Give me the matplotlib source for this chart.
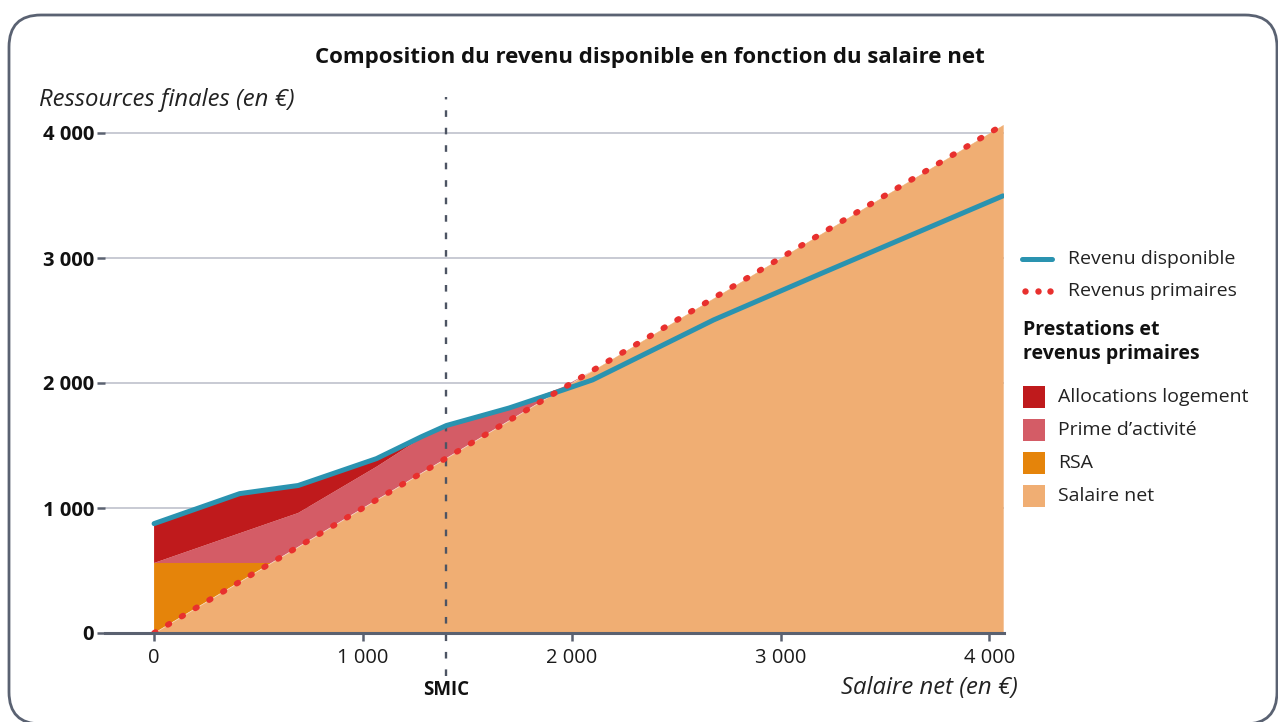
import matplotlib
matplotlib.use("Agg")
import matplotlib.pyplot as plt
from matplotlib.patches import FancyBboxPatch, Rectangle
from matplotlib.lines import Line2D

plt.rcParams['font.family'] = ['Open Sans', 'DejaVu Sans']

# ---- data ----
salaire = [0, 410, 560, 690, 1065, 1280, 1400, 1700, 1960, 2100, 2680, 3200, 4065]
rsa = [560, 150, 0, 0, 0, 0, 0, 0, 0, 0, 0, 0, 0]
prime_activite = [0, 238, 325, 270, 265, 280, 260, 100, 10, 0, 0, 0, 0]
allocations_logement = [315, 317, 265, 220, 65, 0, 0, 0, 0, 0, 0, 0, 0]
revenu_disponible = [875, 1115, 1150, 1180, 1395, 1570, 1660, 1800, 1945, 2025, 2505, 2880, 3497]
smic = 1400

x_ticks = [0, 1000, 2000, 3000, 4000]
x_tick_labels = ["0", "1 000", "2 000", "3 000", "4 000"]
y_ticks = [0, 1000, 2000, 3000, 4000]
y_tick_labels = ["0", "1 000", "2 000", "3 000", "4 000"]

layer_labels = ["Salaire net", "RSA", "Prime d\u2019activité", "Allocations logement"]
layer_colors = ["#f0ae73", "#e5840a", "#d45c66", "#bf1a1c"]
c_blue = "#2a93b0"
c_red = "#e8302e"
c_axis = "#5a6170"
dot_style = (0, (0.3, 2.45))

W, H = 1278, 722
fig = plt.figure(figsize=(W / 100, H / 100), dpi=100)

def fx(px):
    return px / W

def fy(py):
    return 1 - py / H

# rounded frame
frame = FancyBboxPatch((fx(9), fy(724)), fx(1277) - fx(9), fy(15) - fy(724),
                       boxstyle="round,pad=0,rounding_size=0.025",
                       transform=fig.transFigure, facecolor="white",
                       edgecolor="#5a6272", linewidth=2.0, zorder=-5,
                       mutation_aspect=W / H)
fig.patches.append(frame)

ax = fig.add_axes([fx(105), fy(633), fx(1004) - fx(105), fy(95.5) - fy(633)])
ax.set_zorder(2)
ax.set_facecolor("none")
ax.set_xlim(-235, 4070)
ax.set_ylim(0, 4300)

# grid
for yv in y_ticks[1:]:
    ax.axhline(yv, color="#b9bcc8", lw=1.1, zorder=1)

stacks = ax.stackplot(salaire, salaire, rsa, prime_activite, allocations_logement,
                      colors=layer_colors, zorder=2, linewidth=0)
for s in stacks:
    s.set_linewidth(0)
stacks[0].set_edgecolor("face")
stacks[0].set_linewidth(0.3)

# SMIC line
ax.plot([smic, smic], [-340, 4290], color="#4d5463", lw=1.7,
        linestyle=(0, (2.8, 4.6)), zorder=4, clip_on=False)

ax.plot(salaire, revenu_disponible, color=c_blue, lw=3.6, zorder=5,
        solid_capstyle="round", solid_joinstyle="round")
ax.plot(salaire, salaire, color=c_red, lw=4.2, linestyle=dot_style,
        dash_capstyle="round", zorder=6)

# axes styling
for sp in ["top", "right", "left"]:
    ax.spines[sp].set_visible(False)
ax.spines["bottom"].set_color(c_axis)
ax.spines["bottom"].set_linewidth(2.2)
ax.spines["bottom"].set_zorder(7)

ax.set_xticks(x_ticks)
ax.set_xticklabels(x_tick_labels)
ax.set_yticks(y_ticks)
ax.set_yticklabels(y_tick_labels, fontweight="bold")
ax.tick_params(axis="x", length=6, width=1.8, color=c_axis, labelsize=14.5,
               labelcolor="#1a1a1a", pad=5)
ax.tick_params(axis="y", length=6, width=1.8, color=c_axis, labelsize=14.5,
               labelcolor="#111111", pad=2)

# texts
fig.text(fx(650), fy(58), "Composition du revenu disponible en fonction du salaire net",
         ha="center", va="center", fontsize=16, fontweight="bold", color="#111111")
fig.text(fx(39), fy(100), "Ressources finales (en €)", ha="left", va="center",
         fontsize=17.2, fontstyle="italic", color="#222222")
fig.text(fx(1018), fy(688), "Salaire net (en €)", ha="right", va="center",
         fontsize=17.2, fontstyle="italic", color="#222222")
fig.text(fx(446), fy(690), "SMIC", ha="center", va="center",
         fontsize=13.5, fontweight="bold", color="#111111")

# legend (manual)
fig.add_artist(Line2D([fx(1022), fx(1052)], [fy(259), fy(259)], color=c_blue, lw=3.6,
                      solid_capstyle="round", transform=fig.transFigure))
fig.text(fx(1068), fy(259), "Revenu disponible", ha="left", va="center", fontsize=14,
         color="#222222")
fig.add_artist(Line2D([fx(1025), fx(1037.5), fx(1050)], [fy(291)] * 3, color=c_red,
                      linestyle="none", marker="o", markersize=4.6,
                      markeredgewidth=0, transform=fig.transFigure))
fig.text(fx(1068), fy(291), "Revenus primaires", ha="left", va="center", fontsize=14,
         color="#222222")
fig.text(fx(1023), fy(342), "Prestations et\nrevenus primaires", ha="left", va="center",
         fontsize=14, fontweight="bold", color="#111111", linespacing=1.25)

legend_order = [3, 2, 1, 0]
for i, k in enumerate(legend_order):
    yc = 397 + 33 * i
    fig.add_artist(Rectangle((fx(1023), fy(yc + 11)), fx(22), 22 / H,
                             facecolor=layer_colors[k], edgecolor="none",
                             transform=fig.transFigure))
    fig.text(fx(1058), fy(yc), layer_labels[k], ha="left", va="center", fontsize=14,
             color="#222222")

fig.savefig("out.png", dpi=100)
